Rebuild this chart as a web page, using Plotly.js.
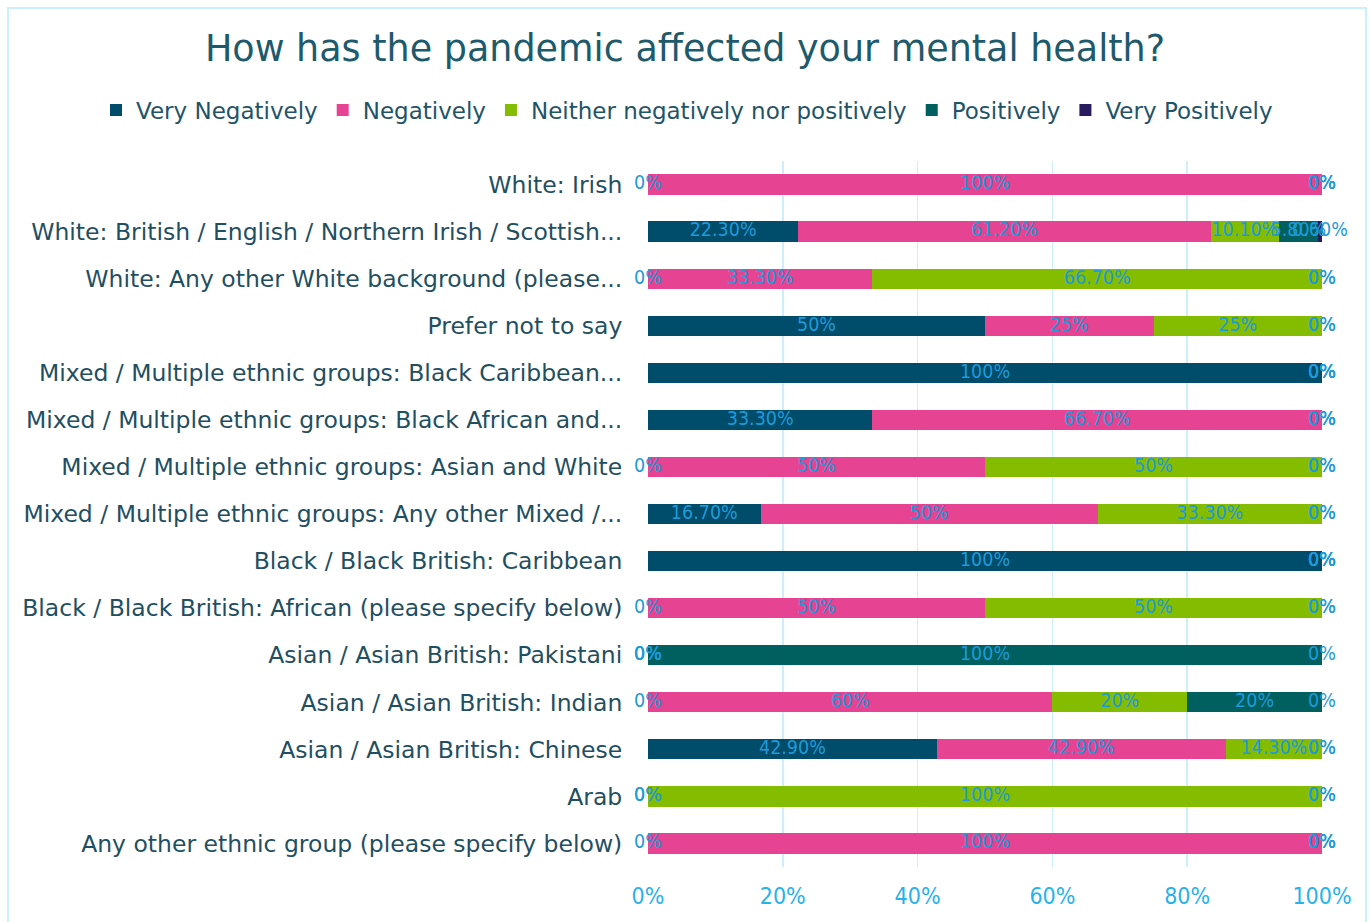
<!DOCTYPE html>
<html>
<head>
<meta charset="utf-8">
<script src="https://cdn.plot.ly/plotly-3.0.1.min.js"></script>
<style>
  html, body { margin: 0; padding: 0; background: #ffffff; }
  #chart { position: absolute; left: 0; top: 0; width: 1370px; height: 922px; }
  #frame { position: absolute; left: 7px; top: 7px; width: 1356px; height: 930px;
           border: 2px solid #cdeefb; pointer-events: none; }
</style>
</head>
<body>
<div id="chart"></div>
<div id="frame"></div>
<script>
const categories = [
  "White: Irish",
  "White: British / English / Northern Irish / Scottish...",
  "White: Any other White background (please...",
  "Prefer not to say",
  "Mixed / Multiple ethnic groups: Black Caribbean...",
  "Mixed / Multiple ethnic groups: Black African and...",
  "Mixed / Multiple ethnic groups: Asian and White",
  "Mixed / Multiple ethnic groups: Any other Mixed /...",
  "Black / Black British: Caribbean",
  "Black / Black British: African (please specify below)",
  "Asian / Asian British: Pakistani",
  "Asian / Asian British: Indian",
  "Asian / Asian British: Chinese",
  "Arab",
  "Any other ethnic group (please specify below)"
];

const seriesNames = ["Very Negatively", "Negatively", "Neither negatively nor positively", "Positively", "Very Positively"];

const veryNegatively = [0, 22.3, 0, 50, 100, 33.3, 0, 16.7, 100, 0, 0, 0, 42.9, 0, 0];
const negatively     = [100, 61.2, 33.3, 25, 0, 66.7, 50, 50, 0, 50, 0, 60, 42.9, 0, 100];
const neither        = [0, 10.1, 66.7, 25, 0, 0, 50, 33.3, 0, 50, 0, 20, 14.3, 100, 0];
const positively     = [0, 5.8, 0, 0, 0, 0, 0, 0, 0, 0, 100, 20, 0, 0, 0];
const veryPositively = [0, 0.6, 0, 0, 0, 0, 0, 0, 0, 0, 0, 0, 0, 0, 0];

const xTickVals = [0, 20, 40, 60, 80, 100];
const xTickText = ["0%", "20%", "40%", "60%", "80%", "100%"];

const colors = ["#004c6b", "#e64393", "#84bd00", "#00605f", "#2a1a5e"];
const allSeries = [veryNegatively, negatively, neither, positively, veryPositively];

const FONT = "DejaVu Sans, sans-serif";
const LABEL_FONT = "DejaVu Sans Condensed, DejaVu Sans, sans-serif";

function fmt(v) {
  return (Number.isInteger(v) ? String(v) : v.toFixed(2)) + "%";
}

const traces = [];
allSeries.forEach((vals, i) => {
  traces.push({
    type: "bar",
    orientation: "h",
    name: seriesNames[i],
    y: categories,
    x: vals,
    marker: { color: colors[i], line: { width: 0 } },
    hoverinfo: "skip"
  });
});

// data labels centred on each (100%-normalised) segment; zero values sit at the boundary
const totals = categories.map((c, k) => allSeries.reduce((s, vals) => s + vals[k], 0));
const cum = categories.map(() => 0);
allSeries.forEach((vals, i) => {
  const xs = [], txt = [];
  vals.forEach((v, k) => {
    const share = v / totals[k] * 100;
    xs.push(Math.min(100, Math.round((cum[k] + share / 2) * 1e6) / 1e6));
    txt.push(fmt(v));
    cum[k] += share;
  });
  traces.push({
    type: "scatter",
    mode: "text",
    x: xs,
    y: categories,
    text: txt,
    textposition: "middle center",
    textfont: { family: LABEL_FONT, size: 19.5, color: "#1e9ad8" },
    showlegend: false,
    hoverinfo: "skip",
    cliponaxis: false
  });
});

const plotL = 648, plotR = 1322, plotT = 161, plotB = 867;
const layout = {
  width: 1370,
  height: 922,
  paper_bgcolor: "#ffffff",
  plot_bgcolor: "#ffffff",
  barmode: "stack",
  barnorm: "percent",
  bargap: 0.57,
  margin: { l: plotL, r: 1370 - plotR, t: plotT, b: 922 - plotB },
  font: { family: FONT, size: 20, color: "#1f4f61" },
  title: {
    text: "How has the pandemic affected your mental health?",
    font: { family: FONT, size: 36.5, color: "#1d5a6c" },
    xref: "container", x: 0.5, xanchor: "center",
    yref: "container", y: 1 - 48 / 922, yanchor: "middle"
  },
  legend: {
    orientation: "h",
    xref: "paper", x: (96 - plotL) / (plotR - plotL), xanchor: "left",
    yref: "paper", y: (plotB - 110) / (plotB - plotT), yanchor: "middle",
    font: { family: FONT, size: 23, color: "#1f5468" },
    itemwidth: 30,
    traceorder: "normal"
  },
  xaxis: {
    range: [0, 100],
    tickvals: xTickVals,
    ticktext: xTickText,
    showgrid: true,
    gridcolor: "#cdeefb",
    gridwidth: 1.5,
    zeroline: false,
    showline: false,
    ticks: "outside",
    ticklen: 8,
    tickcolor: "rgba(0,0,0,0)",
    tickfont: { family: LABEL_FONT, size: 23, color: "#27b2ea" },
    fixedrange: true
  },
  yaxis: {
    type: "category",
    range: [categories.length - 0.5, -0.5],
    autorange: false,
    showgrid: false,
    zeroline: false,
    showline: false,
    ticks: "outside",
    ticklen: 20,
    tickcolor: "rgba(0,0,0,0)",
    tickfont: { family: FONT, size: 23.5, color: "#1f4f61" },
    fixedrange: true
  },
  showlegend: true
};

Plotly.newPlot("chart", traces, layout, { displayModeBar: false, staticPlot: true });
</script>
</body>
</html>
